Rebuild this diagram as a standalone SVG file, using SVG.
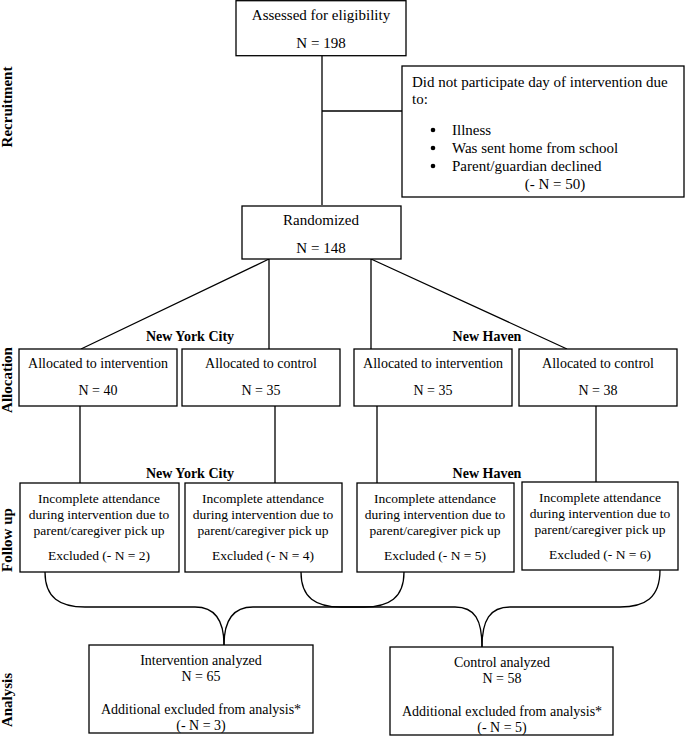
<svg xmlns="http://www.w3.org/2000/svg" width="685" height="736" viewBox="0 0 685 736">
<style>
.b{fill:#fff;stroke:#000;stroke-width:1.3}
.l{fill:none;stroke:#000;stroke-width:1.3}
.t15{font-size:15px}
.t14{font-size:14px}
.t13{font-size:13.5px}
.c{text-anchor:middle}
.h{font-weight:bold;font-size:14px;text-anchor:middle}
.s{font-weight:bold;font-size:15px;text-anchor:middle}
</style>
<rect width="685" height="736" fill="#fff"/>
<g id="connectors">
<path class="l" d="M322,56V205M322,111H402"/>
<path class="l" d="M269,259L81,349M269,259V349M371,259V349M371,259L567,349"/>
<path class="l" d="M80,406V483M275,406V483M377,406V483M596,406V482"/>
<path class="l" d="M45,572C45,598 60,607 85,607L195,607C215,607 224,620 224,645"/>
<path class="l" d="M404,572C404,598 389,607 364,607L253,607C233,607 224,620 224,645"/>
<path class="l" d="M301,572C301,598 316,607 341,607L455,607C475,607 482,620 482,647"/>
<path class="l" d="M660,570C660,598 645,607 620,607L510,607C490,607 482,620 482,647"/>
</g>
<g font-family="Liberation Serif, serif" fill="#000">
<g id="phase-labels">
<text class="s" transform="translate(12,107) rotate(-90)">Recruitment</text>
<text class="s" transform="translate(12,380) rotate(-90)">Allocation</text>
<text class="s" transform="translate(12,540) rotate(-90)">Follow up</text>
<text class="s" transform="translate(12,700) rotate(-90)">Analysis</text>
</g>
<g id="site-labels">
<text class="h" x="190" y="341">New York City</text>
<text class="h" x="487" y="341">New Haven</text>
<text class="h" x="190" y="478">New York City</text>
<text class="h" x="487" y="478">New Haven</text>
</g>
<g id="assessed">
<rect class="b" x="236" y="0.7" width="170" height="55"/>
<text class="t15 c" x="321" y="20">Assessed for eligibility</text>
<text class="t15 c" x="321" y="48">N = 198</text>
</g>
<g id="excluded">
<rect class="b" x="402" y="66" width="282" height="131"/>
<text class="t15" x="412" y="87">Did not participate day of intervention due</text>
<text class="t15" x="412" y="104">to:</text>
<circle cx="433" cy="130" r="2.3"/>
<circle cx="433" cy="148" r="2.3"/>
<circle cx="433" cy="166" r="2.3"/>
<text class="t15" x="452" y="135">Illness</text>
<text class="t15" x="452" y="153">Was sent home from school</text>
<text class="t15" x="452" y="171">Parent/guardian declined</text>
<text class="t15 c" x="555" y="189">(-  N = 50)</text>
</g>
<g id="randomized">
<rect class="b" x="242" y="206" width="159" height="53"/>
<text class="t15 c" x="321" y="225">Randomized</text>
<text class="t15 c" x="321" y="253">N = 148</text>
</g>
<g id="alloc-nyc-int">
<rect class="b" x="19" y="349" width="158" height="57"/>
<text class="t14 c" x="98" y="368">Allocated to intervention</text>
<text class="t14 c" x="98" y="395">N = 40</text>
</g>
<g id="alloc-nyc-ctl">
<rect class="b" x="182" y="349" width="158" height="57"/>
<text class="t14 c" x="261" y="368">Allocated to control</text>
<text class="t14 c" x="261" y="395">N = 35</text>
</g>
<g id="alloc-nh-int">
<rect class="b" x="354" y="349" width="158" height="57"/>
<text class="t14 c" x="433" y="368">Allocated to intervention</text>
<text class="t14 c" x="433" y="395">N = 35</text>
</g>
<g id="alloc-nh-ctl">
<rect class="b" x="519" y="349" width="158" height="57"/>
<text class="t14 c" x="598" y="368">Allocated to control</text>
<text class="t14 c" x="598" y="395">N = 38</text>
</g>
<g id="fu-nyc-int">
<rect class="b" x="20" y="483" width="159" height="89"/>
<text class="t13 c" x="99" y="503">Incomplete attendance</text>
<text class="t13 c" x="99" y="519">during intervention due to</text>
<text class="t13 c" x="99" y="535">parent/caregiver pick up</text>
<text class="t13 c" x="99" y="560">Excluded (-  N = 2)</text>
</g>
<g id="fu-nyc-ctl">
<rect class="b" x="185" y="483" width="157" height="89"/>
<text class="t13 c" x="263" y="503">Incomplete attendance</text>
<text class="t13 c" x="263" y="519">during intervention due to</text>
<text class="t13 c" x="263" y="535">parent/caregiver pick up</text>
<text class="t13 c" x="263" y="560">Excluded (-  N = 4)</text>
</g>
<g id="fu-nh-int">
<rect class="b" x="357" y="483" width="157" height="89"/>
<text class="t13 c" x="435" y="503">Incomplete attendance</text>
<text class="t13 c" x="435" y="519">during intervention due to</text>
<text class="t13 c" x="435" y="535">parent/caregiver pick up</text>
<text class="t13 c" x="435" y="560">Excluded (-  N = 5)</text>
</g>
<g id="fu-nh-ctl">
<rect class="b" x="522" y="482" width="156" height="88"/>
<text class="t13 c" x="600" y="502">Incomplete attendance</text>
<text class="t13 c" x="600" y="518">during intervention due to</text>
<text class="t13 c" x="600" y="534">parent/caregiver pick up</text>
<text class="t13 c" x="600" y="559">Excluded (- N = 6)</text>
</g>
<g id="int-analyzed">
<rect class="b" x="89" y="645" width="224" height="88"/>
<text class="t14 c" x="201" y="665">Intervention analyzed</text>
<text class="t14 c" x="201" y="681">N = 65</text>
<text class="t14 c" x="201" y="714">Additional excluded from analysis*</text>
<text class="t14 c" x="201" y="730">(- N = 3)</text>
</g>
<g id="ctl-analyzed">
<rect class="b" x="390" y="647" width="223" height="88"/>
<text class="t14 c" x="502" y="667">Control analyzed</text>
<text class="t14 c" x="502" y="683">N = 58</text>
<text class="t14 c" x="502" y="716">Additional excluded from analysis*</text>
<text class="t14 c" x="502" y="732">(- N = 5)</text>
</g>
</g>
</svg>
